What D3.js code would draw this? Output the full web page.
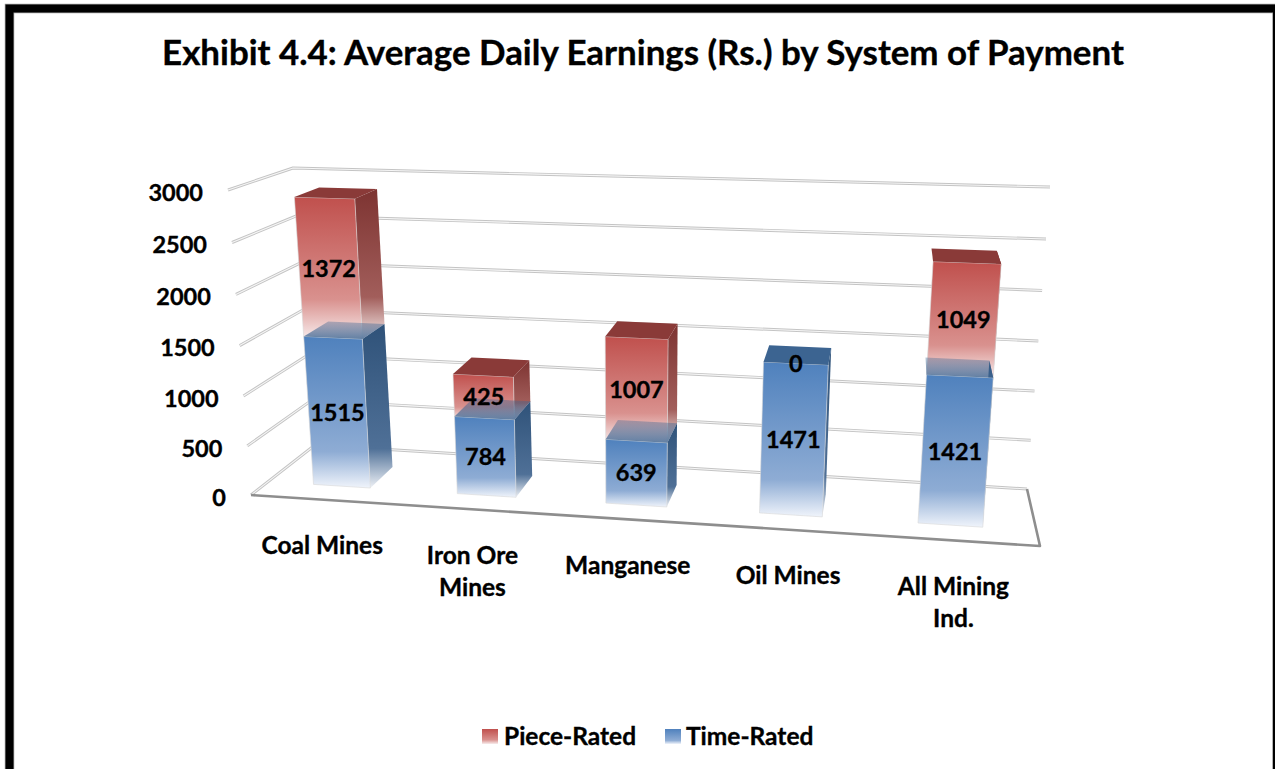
<!DOCTYPE html>
<html><head><meta charset="utf-8">
<script src="https://cdn.jsdelivr.net/npm/d3@7/dist/d3.min.js"></script>
<style>html,body{margin:0;padding:0;background:#fff}svg{display:block}text{font-family:Lato,"Open Sans",sans-serif;font-weight:700;fill:#000;stroke:#000;stroke-width:.35px}</style>
</head><body><div id="chart"></div>
<script>
const categories = ["Coal Mines","Iron Ore|Mines","Manganese","Oil Mines","All Mining|Ind."];
const pieceRated = [1372,425,1007,0,1049];
const timeRated  = [1515,784,639,1471,1421];
const yTicks = [0,500,1000,1500,2000,2500,3000];
const titleText = "Exhibit 4.4: Average Daily Earnings (Rs.) by System of Payment";

const W=1275,H=769;
const svg=d3.select("#chart").append("svg").attr("width",W).attr("height",H);
const defs=svg.append("defs");

// gradients
function grad(id,stops){
  const g=defs.append("linearGradient").attr("id",id).attr("x1",0).attr("y1",0).attr("x2",0).attr("y2",1);
  stops.forEach(([o,c,a])=>g.append("stop").attr("offset",o).attr("stop-color",c).attr("stop-opacity",a===undefined?1:a));
}
grad("redFront",[[0,"#c0504d"],[.72,"#d9918e"],[1,"#f8ecec"]]);
grad("redSide",[[0,"#7d3331"],[.72,"#a25e5b"],[1,"#f6ebea"]]);
grad("blueFront",[[0,"#4f81bd"],[.76,"#8eacd4"],[1,"#f0f4fb"]]);
grad("blueSide",[[0,"#2f5279"],[.76,"#4f7097"],[1,"#eef1f6"]]);
grad("blueTopFade",[[0,"#3c6491",.35],[1,"#3c6491",.8]]);
const topFill={piece:"#8a3a38",time:"#3c6491",timeStacked:"url(#blueTopFade)"};

// scales: category -> along floor, value -> height, then a perspective projection
const band=d3.scaleBand().domain(categories).range([0,1]).paddingInner(.6).paddingOuter(.3);
const yS=d3.scaleLinear().domain([0,3000]).range([0,1]);
const labelU=t=>.92*t+.08*t*t, barU=t=>.004+.91*t+.08*t*t, warpW=t=>.96*t+.04*t*t;
const lerp=(a,b,t)=>a+(b-a)*t;
// projection corners: [front-left, front-right, back-left, back-right]; base and rise per full height
const base={fl:[251,495],fr:[1040,546],bl:[315,445],br:[1027,489]};
const rise={fl:[-23,-305],fr:[27,-332],bl:[-22,-277],br:[23,-302]};
function project(u,v,val){
  const w=warpW(yS(val));
  return [0,1].map(i=>{
    const b=lerp(lerp(base.fl[i],base.fr[i],u),lerp(base.bl[i],base.br[i],u),v);
    const r=lerp(lerp(rise.fl[i],rise.fr[i],u),lerp(rise.bl[i],rise.br[i],u),v);
    return b+r*w;
  });
}
const poly=pts=>"M"+pts.map(p=>p.map(n=>n.toFixed(1)).join(",")).join("L")+"Z";
const line=pts=>"M"+pts.map(p=>p.map(n=>n.toFixed(1)).join(",")).join("L");

// title
svg.append("text").attr("x",643).attr("y",53).attr("dy",".35em").attr("text-anchor","middle")
  .attr("font-size",34.9).text(titleText);

// grid
const gridG=svg.append("g");
yTicks.forEach(t=>{
  const d=line([project(0,0,t),project(0,1,t),project(1,1,t)]);
  gridG.append("path").attr("d",d).attr("fill","none").attr("stroke","#c4c4c4").attr("stroke-width",3).attr("stroke-linejoin","round");
  gridG.append("path").attr("d",d).attr("fill","none").attr("stroke","#f6f6f6").attr("stroke-width",1.1);
});
// floor front and right edges
svg.append("path").attr("d",line([project(0,0,0),project(1,0,0),project(1,1,0)]))
  .attr("fill","none").attr("stroke","#8e8e8e").attr("stroke-width",2.6).attr("stroke-linejoin","round");

// y labels
svg.append("g").selectAll("text").data(yTicks).join("text")
  .attr("x",d=>project(0,0,d)[0]-25).attr("y",d=>project(0,0,d)[1]+2.5).attr("dy",".35em")
  .attr("text-anchor","end").attr("font-size",23.5).text(d=>d);

// bars
const v0=.27,v1=.68;
function box(g,i,lo,hi,frontId,sideId,topColor){
  const c=categories[i], ul=barU(band(c)), ur=barU(band(c)+band.bandwidth());
  const P=project;
  g.append("path").attr("d",poly([P(ur,v0,hi),P(ur,v1,hi),P(ur,v1,lo),P(ur,v0,lo)]))
    .attr("fill",`url(#${sideId})`);
  g.append("path").attr("d",poly([P(ul,v0,hi),P(ur,v0,hi),P(ur,v0,lo),P(ul,v0,lo)]))
    .attr("fill",`url(#${frontId})`).attr("stroke","#d8d8d8").attr("stroke-width",.6);
  g.append("path").attr("d",poly([P(ul,v0,hi),P(ur,v0,hi),P(ur,v1,hi),P(ul,v1,hi)]))
    .attr("fill",topColor);
}
const barsG=svg.append("g");
categories.forEach((c,i)=>{
  const g=barsG.append("g");
  if(pieceRated[i]>0) box(g,i,timeRated[i],timeRated[i]+pieceRated[i],"redFront","redSide",topFill.piece);
  box(g,i,0,timeRated[i],"blueFront","blueSide",pieceRated[i]>0?topFill.timeStacked:topFill.time);
});

// data labels
const labG=svg.append("g");
function dataLabel(i,lo,hi,text){
  const c=categories[i], um=barU(band(c)+band.bandwidth()/2);
  const p=project(um,v0,(lo+hi)/2);
  labG.append("text").attr("x",p[0]).attr("y",p[1]).attr("dy",".35em").attr("text-anchor","middle").attr("font-size",23.5).text(text);
}
categories.forEach((c,i)=>{
  dataLabel(i,0,timeRated[i],timeRated[i]);
  dataLabel(i,timeRated[i],timeRated[i]+pieceRated[i],pieceRated[i]);
});

// category labels
categories.forEach((c,i)=>{
  const um=labelU(band(c)+band.bandwidth()/2), p=project(um,0,0);
  c.split("|").forEach((s,j)=>{
    svg.append("text").attr("x",p[0]-2).attr("y",p[1]+46+j*32).attr("dy",".35em").attr("text-anchor","middle").attr("font-size",24.5).text(s);
  });
});

// legend
const legend=[["Piece-Rated","redFront",482,504],["Time-Rated","blueFront",665,686]];
legend.forEach(([t,f,sx,tx])=>{
  svg.append("rect").attr("x",sx).attr("y",729).attr("width",16).attr("height",15).attr("fill",`url(#${f})`);
  svg.append("text").attr("x",tx).attr("y",736).attr("dy",".35em").attr("font-size",24.5).text(t);
});

// frame
svg.append("rect").attr("x",9.5).attr("y",8.5).attr("width",1267.5).attr("height",H+10).attr("fill","none").attr("stroke","#9a9a9a").attr("stroke-width",9.5);
svg.append("rect").attr("x",9.5).attr("y",8.5).attr("width",1267.5).attr("height",H+10).attr("fill","none").attr("stroke","#000").attr("stroke-width",8);
</script></body></html>
